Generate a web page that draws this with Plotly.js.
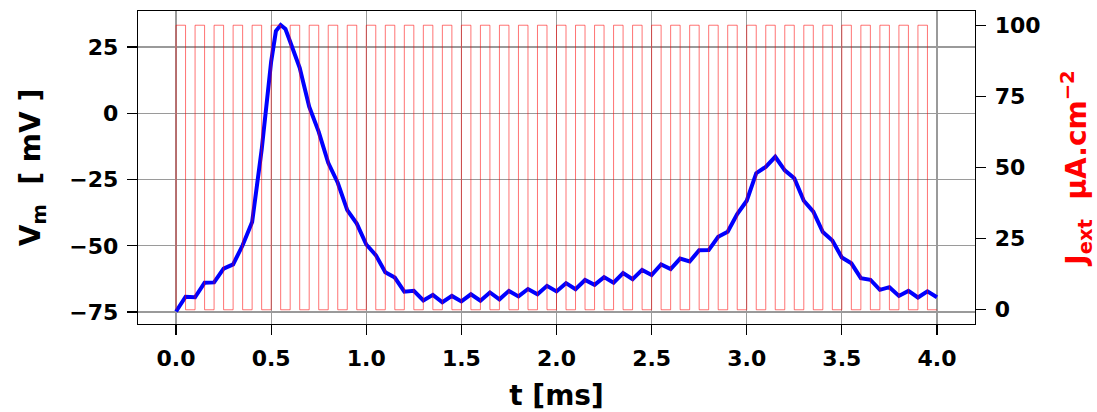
<!DOCTYPE html>
<html><head><meta charset="utf-8">
<script src="https://cdn.plot.ly/plotly-3.0.1.min.js"></script>
<style>html,body{margin:0;padding:0;background:#fff;}</style>
</head><body>
<div id="chart" style="width:1097px;height:412px"></div>
<script>
// membrane potential samples (time in ms, Vm in mV)
const t_ms = [0.00,0.05,0.10,0.15,0.20,0.25,0.30,0.35,0.40,0.45,0.50,0.525,0.55,0.575,0.60,0.65,0.70,0.75,0.80,0.85,0.90,0.95,
  1.00,1.05,1.10,1.15,1.20,1.25,1.30,1.35,1.40,1.45,1.50,1.55,1.60,1.65,1.70,1.75,1.80,1.85,1.90,1.95,
  2.00,2.05,2.10,2.15,2.20,2.25,2.30,2.35,2.40,2.45,2.50,2.55,2.60,2.65,2.70,2.75,2.80,2.85,2.90,2.95,
  3.00,3.05,3.10,3.15,3.20,3.25,3.30,3.35,3.40,3.45,3.50,3.55,3.60,3.65,3.70,3.75,3.80,3.85,3.90,3.95,4.00];
const vm_mV = [-74.8,-69.2,-69.4,-63.9,-63.8,-58.6,-57.0,-49.8,-41.0,-13.8,19.5,31.0,33.3,31.8,27.0,17.2,2.5,-7.0,-18.7,-26.2,-36.5,-41.6,
  -49.5,-53.5,-60.0,-62.0,-67.3,-67.0,-70.6,-68.5,-71.3,-68.9,-71.0,-68.3,-70.7,-67.6,-70.2,-67.0,-69.1,-66.3,-68.3,-65.1,
  -67.2,-64.1,-66.4,-62.9,-64.7,-61.8,-63.9,-60.3,-62.6,-59.1,-61.0,-57.0,-58.8,-54.8,-55.9,-51.7,-51.6,-46.6,-44.7,-38.0,
  -33.0,-22.6,-20.2,-16.4,-21.5,-24.5,-33.0,-37.1,-44.8,-48.0,-54.4,-56.6,-62.2,-62.8,-66.6,-65.6,-68.9,-67.0,-69.5,-67.2,-69.4];

// external current pulse train (step values, held until next time)
const t_ext = [0.00,0.00,0.05,0.10,0.15,0.20,0.25,0.30,0.35,0.40,0.45,0.50,0.55,0.60,0.65,0.70,0.75,0.80,0.85,0.90,0.95,
  1.00,1.05,1.10,1.15,1.20,1.25,1.30,1.35,1.40,1.45,1.50,1.55,1.60,1.65,1.70,1.75,1.80,1.85,1.90,1.95,
  2.00,2.05,2.10,2.15,2.20,2.25,2.30,2.35,2.40,2.45,2.50,2.55,2.60,2.65,2.70,2.75,2.80,2.85,2.90,2.95,
  3.00,3.05,3.10,3.15,3.20,3.25,3.30,3.35,3.40,3.45,3.50,3.55,3.60,3.65,3.70,3.75,3.80,3.85,3.90,3.95,4.00];
const jext = [0,100,0,100,0,100,0,100,0,100,0,100,0,100,0,100,0,100,0,100,0,
  100,0,100,0,100,0,100,0,100,0,100,0,100,0,100,0,100,0,100,0,
  100,0,100,0,100,0,100,0,100,0,100,0,100,0,100,0,100,0,100,0,
  100,0,100,0,100,0,100,0,100,0,100,0,100,0,100,0,100,0,100,0,0];

const xTicks = [0,0.5,1,1.5,2,2.5,3,3.5,4];
const xTickText = ['0.0','0.5','1.0','1.5','2.0','2.5','3.0','3.5','4.0'];
const vmTicks = [-75,-50,-25,0,25];
const jextTicks = [0,25,50,75,100];

const F = 'DejaVu Sans, Verdana, sans-serif';
const tickFont = {family:F, size:22, color:'#000', weight:'bold'};

const traces = [
  {x:t_ms, y:vm_mV, type:'scatter', mode:'lines', line:{color:'#0000ff', width:4}, yaxis:'y', hoverinfo:'skip'},
  {x:t_ext, y:jext, type:'scatter', mode:'lines', line:{color:'rgba(255,0,0,0.55)', width:1, shape:'hv'}, yaxis:'y2', hoverinfo:'skip'}
];

const layout = {
  width:1097, height:412,
  margin:{l:138, r:122, t:11, b:88, pad:0},
  paper_bgcolor:'#fff', plot_bgcolor:'#fff',
  showlegend:false,
  font:{family:F, size:22, color:'#000', weight:'bold'},
  xaxis:{range:[-0.2,4.2], tickvals:xTicks, ticktext:xTickText, ticks:'outside', ticklen:10, tickwidth:1.3, tickcolor:'#000',
    showline:true, linecolor:'#000', linewidth:1.3, mirror:true, showgrid:true, gridcolor:'#9a9a9a', gridwidth:1.2, zeroline:false,
    tickfont:tickFont, ticklabelstandoff:4,
    title:{text:'t [ms]', font:{family:F, size:28, color:'#000', weight:'bold'}, standoff:17}},
  yaxis:{range:[-79.5,38.6], tickvals:vmTicks, ticks:'outside', ticklen:10, tickwidth:1.3, tickcolor:'#000',
    showline:true, linecolor:'#000', linewidth:1.3, mirror:true, showgrid:true, gridcolor:'#9a9a9a', gridwidth:1.2, zeroline:false,
    tickfont:tickFont, ticklabelstandoff:4,
    title:{text:'V<sub>m</sub>\u00a0\u00a0[ mV ]', font:{family:F, size:28, color:'#000', weight:'bold'}, standoff:20}},
  yaxis2:{range:[-5,105], overlaying:'y', side:'right', tickvals:jextTicks, ticks:'outside', ticklen:10, tickwidth:1.3, tickcolor:'#000',
    showline:true, linecolor:'#000', linewidth:1.3, showgrid:false, zeroline:false,
    tickfont:tickFont, ticklabelstandoff:4,
    title:{text:'J<sub>ext</sub>\u00a0\u00a0\u00b5A.cm<sup>\u22122</sup>', font:{family:F, size:28, color:'#ff0000', weight:'bold'}, standoff:30}}
};

Plotly.newPlot('chart', traces, layout, {staticPlot:true, displayModeBar:false});
</script>
</body></html>
